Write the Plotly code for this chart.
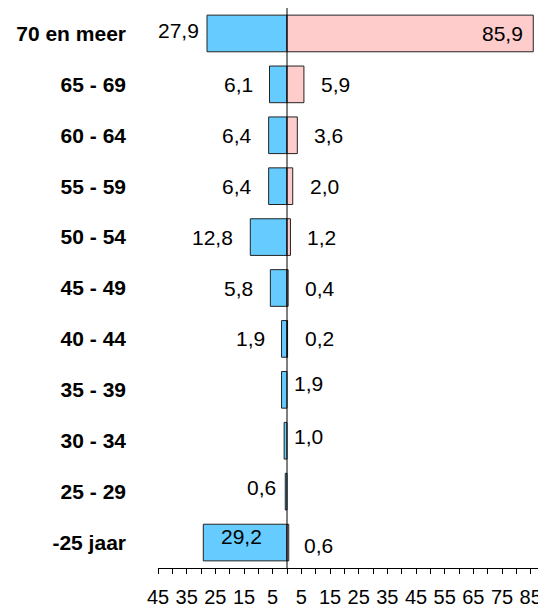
import plotly.graph_objects as go

# ---- data (bottom to top) ----
categories = ["-25 jaar", "25 - 29", "30 - 34", "35 - 39", "40 - 44", "45 - 49",
              "50 - 54", "55 - 59", "60 - 64", "65 - 69", "70 en meer"]
left_values = [29.2, 0.6, 1.0, 1.9, 1.9, 5.8, 12.8, 6.4, 6.4, 6.1, 27.9]
right_values = [0.6, None, None, None, 0.2, 0.4, 1.2, 2.0, 3.6, 5.9, 85.9]

tick_values = list(range(-45, 95, 5))
tick_labels = ["45", "", "35", "", "25", "", "15", "", "5", "", "5", "", "15", "",
               "25", "", "35", "", "45", "", "55", "", "65", "", "75", "", "85", ""]

# ---- label placement (style, not data) ----
# mode: 'out' = outside bar end, 'in' = inside bar, 'zero' = just right of zero
left_place = [("in", -4, 6), ("out", -7, 4), ("zero", 5, 4), ("zero", 5, 6),
              ("out", -15, 0), ("out", -15, 0), ("out", -15, 0), ("out", -15, 0),
              ("out", -15, 0), ("out", -15, 0), ("out", -6, 3)]
right_place = [("out", 13, -3), None, None, None,
               ("out", 15, 0), ("out", 15, 0), ("out", 15, 0), ("out", 15, 0),
               ("out", 15, 0), ("out", 15, 0), ("in", -8, 0)]

FONT = "Arial, Liberation Sans, sans-serif"
BLUE = "#66CCFF"
PINK = "#FFCCCC"
EDGE = "#222222"


def fmt(v):
    return f"{v:.1f}".replace(".", ",")


fig = go.Figure()
fig.add_trace(go.Bar(
    y=categories, x=[-v for v in left_values], orientation="h",
    marker=dict(color=BLUE, line=dict(color=EDGE, width=1)),
    hoverinfo="skip", showlegend=False))
fig.add_trace(go.Bar(
    y=categories, x=right_values, orientation="h",
    marker=dict(color=PINK, line=dict(color=EDGE, width=1)),
    hoverinfo="skip", showlegend=False))

annotations = []
for cat, v, pl in zip(categories, left_values, left_place):
    mode, xs, ys = pl
    if mode == "out":
        annotations.append(dict(x=-v, y=cat, text=fmt(v), xanchor="right",
                                xshift=xs, yshift=ys, showarrow=False))
    elif mode == "in":
        annotations.append(dict(x=-v / 2, y=cat, text=fmt(v), xanchor="center",
                                xshift=xs, yshift=ys, showarrow=False))
    else:
        annotations.append(dict(x=0, y=cat, text=fmt(v), xanchor="left",
                                xshift=xs, yshift=ys, showarrow=False))
for cat, v, pl in zip(categories, right_values, right_place):
    if v is None or pl is None:
        continue
    mode, xs, ys = pl
    if mode == "out":
        annotations.append(dict(x=v, y=cat, text=fmt(v), xanchor="left",
                                xshift=xs, yshift=ys, showarrow=False))
    else:
        annotations.append(dict(x=v, y=cat, text=fmt(v), xanchor="right",
                                xshift=xs, yshift=ys, showarrow=False))
for a in annotations:
    a["font"] = dict(family=FONT, size=21, color="#000000")

# the page body has an 8px margin, so the figure is sized/placed to compensate
fig.update_layout(
    width=538, height=601,
    margin=dict(l=150, r=1, t=0, b=41, autoexpand=False),
    paper_bgcolor="white", plot_bgcolor="white",
    barmode="relative", bargap=0.28,
    annotations=annotations,
    shapes=[dict(type="line", xref="x", yref="paper", x0=0, x1=0, y0=0, y1=1,
                 line=dict(color="black", width=1), layer="above")],
    xaxis=dict(range=[-45, 90], tickmode="array", tickvals=tick_values,
               ticktext=tick_labels, showline=True, linecolor="black", linewidth=1,
               ticks="outside", ticklen=5, tickcolor="black", tickwidth=1,
               showgrid=False, zeroline=False, fixedrange=True,
               tickfont=dict(family=FONT, size=20, color="black"),
               ticklabelstandoff=6, automargin=False),
    yaxis=dict(type="category", categoryorder="array", categoryarray=categories,
               showgrid=False, zeroline=False, showline=False, ticks="",
               tickfont=dict(family=FONT, size=21, color="black", weight="bold"),
               ticklabelstandoff=31, automargin=False, fixedrange=True),
)

fig.write_html("out.html")
